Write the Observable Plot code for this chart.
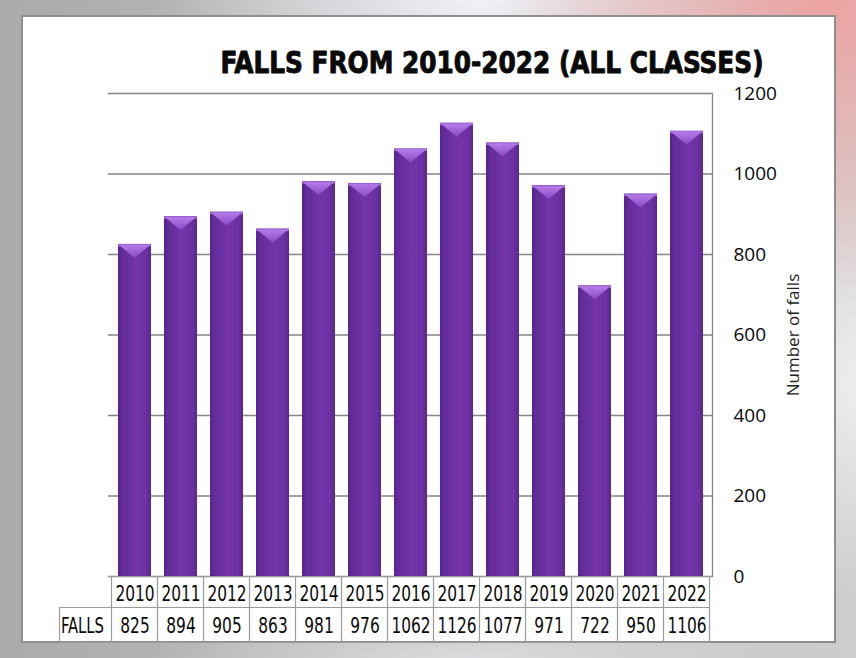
<!DOCTYPE html>
<html>
<head>
<meta charset="utf-8">
<script src="https://cdn.jsdelivr.net/npm/d3@7"></script>
<script src="https://cdn.jsdelivr.net/npm/@observablehq/plot@0.6"></script>
<style>
  html, body { margin: 0; padding: 0; }
  body {
    width: 856px; height: 658px; overflow: hidden; position: relative;
    background:
      radial-gradient(ellipse 330px 300px at 830px 0px, rgba(238,160,160,0.95), rgba(240,175,175,0.5) 55%, rgba(240,180,180,0) 100%),
      radial-gradient(ellipse 320px 110px at 480px 0px, rgba(242,244,250,0.95), rgba(242,244,250,0) 100%),
      radial-gradient(ellipse 110px 220px at 856px 380px, rgba(240,240,242,0.95), rgba(240,240,242,0) 100%),
      radial-gradient(ellipse 320px 60px at 470px 660px, rgba(222,222,226,0.9), rgba(222,222,226,0) 100%),
      linear-gradient(to right, #aaaaaa 0%, #b8b8b8 30%, #c4c4c4 60%, #cdcdcd 100%);
  }
  #panel {
    position: absolute; left: 21px; top: 15px; width: 811px; height: 624px;
    background: #ffffff; border: 2px solid #8e8e8e;
  }
  #chart { position: absolute; left: 0; top: 0; }
</style>
</head>
<body>
<div id="panel"></div>
<div id="chart"></div>
<script>
const titleText = "FALLS FROM 2010-2022 (ALL CLASSES)";
const yLabel = "Number of falls";
const rowLabel = "FALLS";
const years = ["2010","2011","2012","2013","2014","2015","2016","2017","2018","2019","2020","2021","2022"];
const falls = [825, 894, 905, 863, 981, 976, 1062, 1126, 1077, 971, 722, 950, 1106];
const yTicks = [0, 200, 400, 600, 800, 1000, 1200];

const data = years.map((year, i) => ({year, falls: falls[i]}));

const NS = "http://www.w3.org/2000/svg";
const narrow = "'DejaVu Sans Condensed', 'DejaVu Sans', sans-serif";
const sans = "'Open Sans', 'Noto Sans', sans-serif";

function bevel(index, scales, values, dims, ctx, next) {
  const g = next(index, scales, values, dims, ctx);
  const defs = document.createElementNS(NS, "defs");
  defs.innerHTML = `
    <linearGradient id="barGrad" x1="0" x2="1" y1="0" y2="0">
      <stop offset="0" stop-color="#55248a"/>
      <stop offset="0.12" stop-color="#632c9a"/>
      <stop offset="0.55" stop-color="#7434a8"/>
      <stop offset="0.85" stop-color="#6c30a2"/>
      <stop offset="1" stop-color="#582790"/>
    </linearGradient>
    <linearGradient id="capGrad" x1="0" x2="0" y1="0" y2="1">
      <stop offset="0" stop-color="#b57ce8"/>
      <stop offset="1" stop-color="#8c48c6"/>
    </linearGradient>`;
  g.prepend(defs);
  for (const r of [...g.querySelectorAll("rect")]) {
    const x = +r.getAttribute("x"), y = +r.getAttribute("y"), w = +r.getAttribute("width");
    const d = w * 0.42;
    const strip = document.createElementNS(NS, "rect");
    strip.setAttribute("x", x); strip.setAttribute("y", y);
    strip.setAttribute("width", w); strip.setAttribute("height", 2.5);
    strip.setAttribute("fill", "#9d62d6");
    g.appendChild(strip);
    const p = document.createElementNS(NS, "polygon");
    p.setAttribute("points", `${x + 1},${y + 1} ${x + w - 1},${y + 1} ${x + w / 2},${y + d}`);
    p.setAttribute("fill", "url(#capGrad)");
    g.appendChild(p);
  }
  return g;
}

function tableLines(index, scales, values, dims, ctx, next) {
  const g = next(index, scales, values, dims, ctx);
  const x = scales.x;
  const step = x.step(), bw = x.bandwidth();
  const off = (step - bw) / 2;
  const top = dims.height - dims.marginBottom;
  const mid = top + 31, bot = top + 66;
  const left = x(years[0]) - off;
  const right = x(years[years.length - 1]) - off + step;
  const lg = document.createElementNS(NS, "g");
  lg.setAttribute("stroke", "#9a9a9a");
  lg.setAttribute("stroke-width", "1.2");
  const line = (x1, y1, x2, y2) => {
    const l = document.createElementNS(NS, "line");
    l.setAttribute("x1", x1); l.setAttribute("y1", y1);
    l.setAttribute("x2", x2); l.setAttribute("y2", y2);
    lg.appendChild(l);
  };
  const labelLeft = left - 52;
  line(labelLeft, mid, right, mid);
  line(labelLeft, bot, right, bot);
  line(labelLeft, mid, labelLeft, bot);
  for (const yr of years) line(x(yr) - off, top, x(yr) - off, bot);
  line(right, top, right, bot);
  g.appendChild(lg);
  return g;
}

function squeezeTo(perChar, fixed) {
  return function (index, scales, values, dims, ctx, next) {
    const g = next(index, scales, values, dims, ctx);
    for (const t of g.querySelectorAll("text")) {
      const n = t.textContent.length;
      t.setAttribute("textLength", fixed != null ? fixed : n * perChar);
      t.setAttribute("lengthAdjust", "spacingAndGlyphs");
    }
    return g;
  };
}

const chart = Plot.plot({
  width: 856,
  height: 658,
  marginLeft: 108,
  marginRight: 144,
  marginTop: 93,
  marginBottom: 82,
  style: {background: "transparent", overflow: "visible", fontFamily: sans},
  x: {type: "band", domain: years, paddingInner: 0.29, paddingOuter: 0.145, axis: null},
  y: {domain: [0, 1200]},
  marks: [
    Plot.gridY(yTicks, {stroke: "#858585", strokeOpacity: 1, strokeWidth: 1.3}),
    Plot.frame({anchor: "right", stroke: "#858585", strokeWidth: 1.3}),
    Plot.barY(data, {x: "year", y: "falls", fill: "url(#barGrad)", render: bevel}),
    Plot.ruleY([0], {stroke: "#9a9a9a", strokeWidth: 1.2, render: tableLines}),
    Plot.axisY(yTicks, {anchor: "right", tickSize: 0, tickPadding: 21, fontSize: 19, fill: "#0a0a0a", label: null, tickFormat: d => String(d)}),
    Plot.text(years, {x: d => d, text: d => d, frameAnchor: "bottom", lineAnchor: "middle", textAnchor: "middle", dy: 17, fontSize: 22, fontFamily: narrow, fill: "#0a0a0a", render: squeezeTo(9.8)}),
    Plot.text(data, {x: "year", text: d => String(d.falls), frameAnchor: "bottom", lineAnchor: "middle", textAnchor: "middle", dy: 49.5, fontSize: 22, fontFamily: narrow, fill: "#0a0a0a", render: squeezeTo(9.8)}),
    Plot.text([rowLabel], {text: d => d, frameAnchor: "bottom-left", lineAnchor: "middle", textAnchor: "middle", dx: -26, dy: 49.5, fontSize: 22, fontFamily: narrow, fill: "#0a0a0a", render: squeezeTo(0, 43)}),
    Plot.text([yLabel], {text: d => d, frameAnchor: "right", textAnchor: "middle", lineAnchor: "middle", dx: 81, rotate: -90, fontSize: 17, fontFamily: sans, fill: "#222"}),
    Plot.text([titleText], {text: d => d, frameAnchor: "top-left", dx: 112, dy: -21, lineAnchor: "bottom", textAnchor: "start", fontSize: 30, fontWeight: "bold", fontFamily: "'DejaVu Sans Condensed', 'DejaVu Sans', sans-serif", fill: "#0a0a0a", stroke: "#0a0a0a", strokeWidth: 0.9, render: squeezeTo(0, 543)})
  ]
});
document.getElementById("chart").appendChild(chart);
</script>
</body>
</html>
